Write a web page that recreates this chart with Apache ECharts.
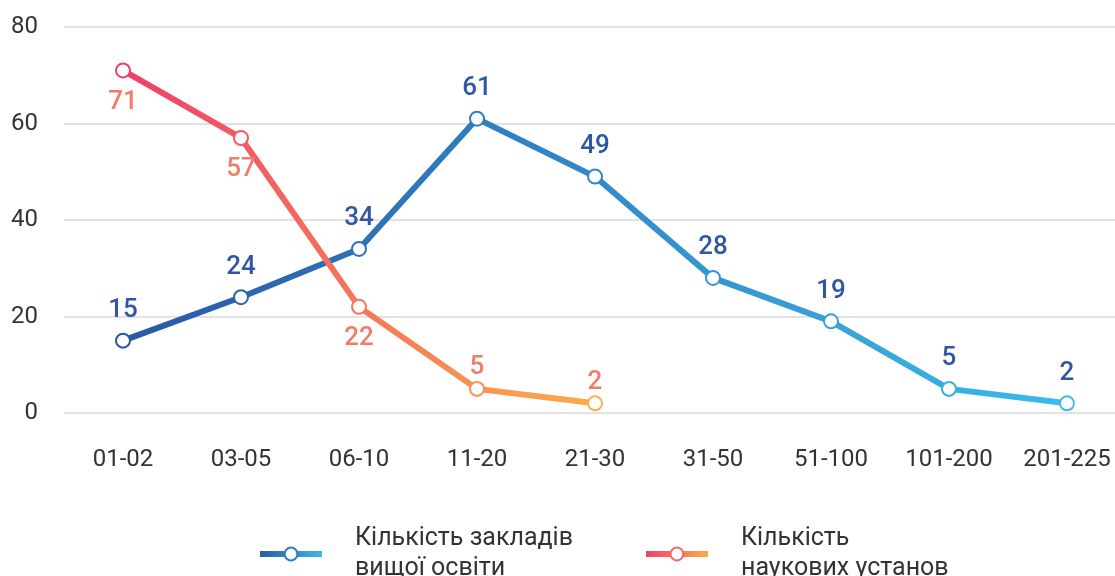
<!DOCTYPE html>
<html>
<head>
<meta charset="utf-8">
<script src="https://cdn.jsdelivr.net/npm/echarts@6/dist/echarts.min.js"></script>
<style>html,body{margin:0;padding:0;background:#fff;overflow:hidden;width:1115px;height:576px}#c{width:1126px;height:576px}</style>
</head>
<body>
<div id="c"></div>
<script>
const categories = ['01-02','03-05','06-10','11-20','21-30','31-50','51-100','101-200','201-225'];
const higherEd = [15, 24, 34, 61, 49, 28, 19, 5, 2];
const research = [71, 57, 22, 5, 2];
const seriesNames = ['Кількість закладів\nвищої освіти', 'Кількість\nнаукових установ'];
const yTicks = { min: 0, max: 80, interval: 20 };

function hex(c){return [parseInt(c.slice(1,3),16),parseInt(c.slice(3,5),16),parseInt(c.slice(5,7),16)];}
function mix(a,b,t){const A=hex(a),B=hex(b);return 'rgb('+A.map((v,i)=>Math.round(v+(B[i]-v)*t)).join(',')+')';}
const blueA='#2a57a5', blueB='#3cbbea';
const redA='#ec3f6e', redB='#fdae48';
const grad=(a,b)=>new echarts.graphic.LinearGradient(0,0,1,0,[{offset:0,color:a},{offset:1,color:b}]);

const chart = echarts.init(document.getElementById('c'));
chart.setOption({
  animation:false,
  grid:{left:64,right:0,top:27,bottom:163},
  xAxis:{type:'category',data:categories,boundaryGap:true,
    axisLine:{show:false},axisTick:{show:false},
    axisLabel:{fontSize:24,color:'#333',margin:35,fontFamily:'Roboto'}},
  yAxis:{type:'value',min:yTicks.min,max:yTicks.max,interval:yTicks.interval,
    axisLine:{show:false},axisTick:{show:false},
    splitLine:{lineStyle:{color:'#d9d9d9',width:1.5}},
    axisLabel:{fontSize:24,color:'#333',margin:26,fontFamily:'Roboto'}},
  legend:{bottom:-13,left:252,itemWidth:62,itemHeight:16,itemGap:70,
    textStyle:{fontSize:25,color:'#333',lineHeight:30,fontFamily:'Roboto',padding:[0,0,0,28]},
    data:[
      {name:seriesNames[0],itemStyle:{color:'#2e7cc2',borderWidth:3},lineStyle:{color:grad(blueA,blueB),width:6}},
      {name:seriesNames[1],itemStyle:{color:'#f26a6a',borderWidth:3},lineStyle:{color:grad(redA,redB),width:6}}
    ]},
  series:[
    {name:seriesNames[0],type:'line',data:higherEd,symbol:'emptyCircle',symbolSize:14,
     lineStyle:{width:6,color:grad(blueA,blueB)},
     itemStyle:{color:(p)=>mix(blueA,blueB,(p.dataIndex||0)/(higherEd.length-1)),borderWidth:3},
     label:{show:true,position:'top',distance:9,fontSize:26,fontWeight:500,color:'#2e58a6',fontFamily:'Roboto'},
     z:2},
    {name:seriesNames[1],type:'line',data:research,symbol:'emptyCircle',symbolSize:14,
     lineStyle:{width:6,color:grad(redA,redB)},
     itemStyle:{color:(p)=>mix(redA,redB,(p.dataIndex||0)/(research.length-1)),borderWidth:3},
     label:{show:true,position:'bottom',distance:11,fontSize:26,fontWeight:500,color:'#f27c67',fontFamily:'Roboto'},
     labelLayout:(p)=> p.dataIndex>=3 ? {dy:-(p.labelRect.height+14+11+2)} : {},
     z:3}
  ]
});
</script>
</body>
</html>
